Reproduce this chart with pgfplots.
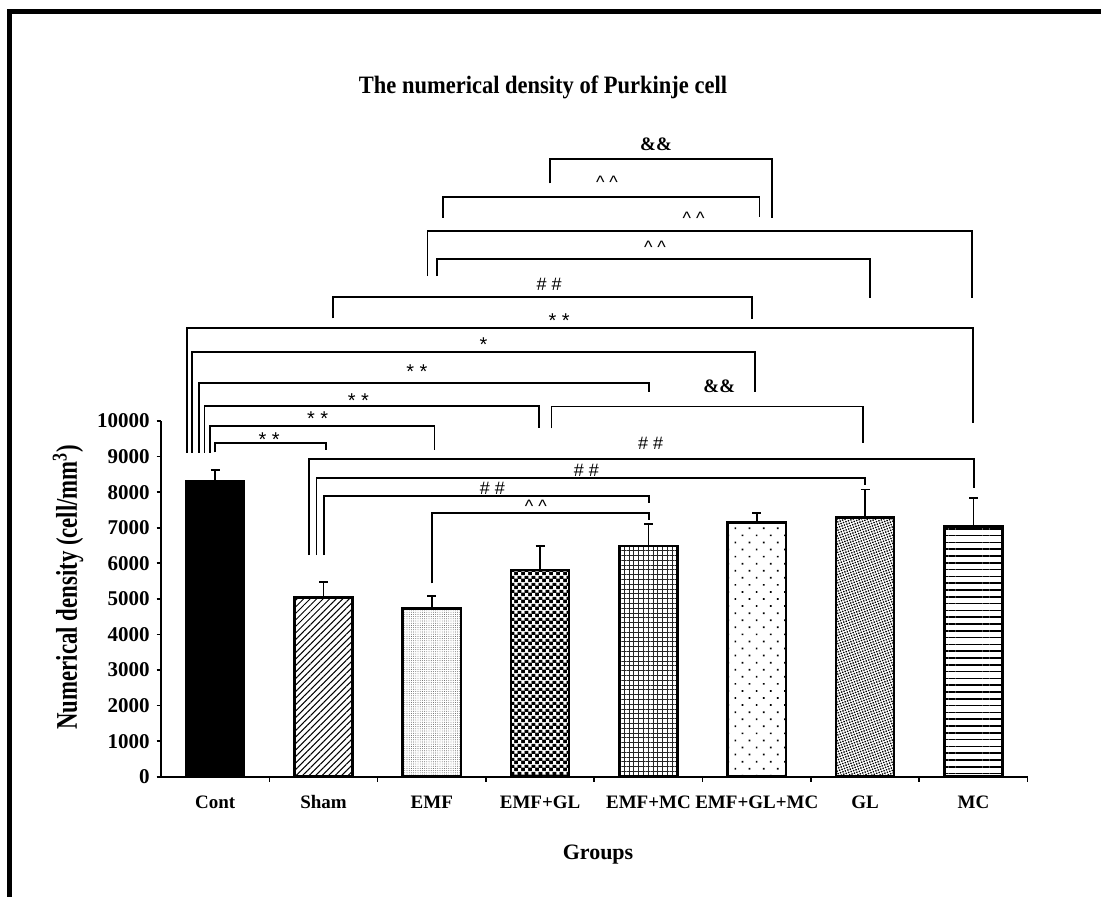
\documentclass[border=0pt]{standalone}
\usepackage{graphicx}
\usepackage{pgfplots}
\pgfplotsset{compat=1.18}
\usepackage{fontspec}
\setmainfont{Liberation Serif}
\newfontfamily\sansf{Liberation Sans}
\usetikzlibrary{patterns.meta}

\pgfdeclarepattern{
  name=wcheck,
  type=colored,
  bottom left={\pgfpointorigin},
  top right={\pgfpoint{3.5pt}{3.5pt}},
  tile size={\pgfpoint{3.5pt}{3.5pt}},
  code={
    \pgfsetfillcolor{black}
    \pgfpathrectangle{\pgfpointorigin}{\pgfpoint{3.5pt}{3.5pt}}
    \pgfusepath{fill}
    \pgfsetfillcolor{white}
    \pgfpathrectangle{\pgfpoint{0.1pt}{0.1pt}}{\pgfpoint{1.6pt}{1.6pt}}
    \pgfpathrectangle{\pgfpoint{1.85pt}{1.85pt}}{\pgfpoint{1.6pt}{1.6pt}}
    \pgfusepath{fill}
  }
}

\tikzset{
  sl/.style={font=\fontsize{9}{10}\selectfont\sansf, inner sep=0pt},
  st/.style={font=\fontsize{10}{11}\selectfont\sansf, inner sep=0pt, yshift=-2.2pt},
  bl/.style={font=\fontsize{9.5}{11}\selectfont\bfseries, inner sep=0pt},
}

\newcommand{\br}[5]{\draw[line width=0.9pt,black] (axis cs:#1,#2) |- (axis cs:#3,#5) -- (axis cs:#3,#4);}

\begin{document}
\begin{tikzpicture}
\path[use as bounding box] (0pt,0pt) rectangle (550.5pt,448pt);
\draw[line width=2.5pt] (4.75pt,-3pt) -- (4.75pt,442.15pt) -- (553pt,442.15pt);
\begin{axis}[
  at={(80.5pt,59.65pt)}, anchor=south west,
  scale only axis, width=433.3pt, height=177.85pt,
  xmin=-0.5, xmax=7.5, ymin=0, ymax=10000,
  clip=false,
  axis x line*=bottom, axis y line*=left,
  axis line style={line width=0.9pt,-},
  xtick={0,...,7},
  xticklabels={Cont,Sham,EMF,EMF+GL,EMF+MC,EMF+GL+MC,GL,MC},
  major x tick style={draw=none},
  minor xtick={0.5,1.5,...,7.5},
  minor x tick style={line width=0.8pt,black},
  minor tick length=2.5pt,
  ytick={0,1000,...,10000},
  major y tick style={line width=0.8pt,black},
  major tick length=2.2pt,
  tick align=outside,
  scaled y ticks=false,
  /pgf/number format/assume math mode=true,
  /pgf/number format/1000 sep={},
  yticklabel style={font=\fontsize{10.5}{12}\selectfont\bfseries},
  xticklabel style={font=\fontsize{9.5}{11}\selectfont\bfseries, anchor=base, yshift=-13.5pt},
  title={\scalebox{0.9}[1]{The numerical density of Purkinje cell}},
  title style={font=\fontsize{12.5}{14}\selectfont\bfseries, at={(axis description cs:0.4408,1.905)}, anchor=center},
  xlabel={Groups},
  xlabel style={font=\fontsize{11}{13}\selectfont\bfseries, at={(axis description cs:0.5043,-0.218)}, anchor=center},
  ylabel={\scalebox{0.76}[1]{Numerical density (cell/mm\textsuperscript{3})}},
  ylabel style={font=\fontsize{15}{17}\selectfont\bfseries, at={(axis description cs:-0.1073,0.533)}, anchor=center},
  bar/.style={ybar, bar width=0.536, bar shift=0pt, draw=black, line width=1.3pt,
    error bars/y dir=plus, error bars/y explicit,
    error bars/error bar style={line width=0.8pt,black,solid},
    error bars/error mark options={rotate=90, line width=0.8pt, mark size=2.2pt, black}},
]
\addplot[bar, fill=black] coordinates {(0,8300) +- (0,320)};
\addplot[bar, pattern={Lines[angle=45,distance=2.3pt,line width=0.5pt]}] coordinates {(1,5040) +- (0,440)};
\addplot[bar, pattern={Dots[distance=1.1pt,radius=0.22pt]}, pattern color=black!75] coordinates {(2,4730) +- (0,350)};
\addplot[bar, pattern=wcheck] coordinates {(3,5810) +- (0,675)};
\addplot[bar, pattern={Hatch[angle=0,distance=2.4pt,line width=0.2pt]}, pattern color=black!85] coordinates {(4,6490) +- (0,610)};
\addplot[bar, pattern={Dots[angle=45,distance=5pt,radius=0.6pt]}] coordinates {(5,7140) +- (0,280)};
\addplot[bar, pattern={Dots[angle=20,distance=1.3pt,radius=0.48pt]}] coordinates {(6,7290) +- (0,790)};
\addplot[bar, pattern={Lines[angle=0,distance=3.4pt,line width=0.8pt]}] coordinates {(7,7030) +- (0,800)};

\br{3.093}{16680}{5.140}{15697}{17355}
\br{2.103}{15714}{5.026}{15742}{16287}
\br{1.960}{14075}{6.987}{13448}{15340}
\br{2.047}{14075}{6.045}{13448}{14553}
\br{1.090}{12886}{4.956}{12866}{13493}
\br{-0.262}{9108}{6.999}{9934}{12605}
\br{-0.211}{9108}{4.983}{10822}{11930}
\br{-0.150}{9108}{4.007}{10805}{11075}
\br{-0.098}{9108}{2.992}{9794}{10420}
\br{-0.045}{9108}{2.025}{9184}{9858}
\br{0}{9118}{1.022}{9184}{9372}
\br{3.105}{9794}{5.977}{9380}{10406}
\br{0.868}{6232}{7.008}{8107}{8922}
\br{0.935}{6232}{5.999}{8200}{8405}
\br{1.006}{6232}{4.007}{7702}{7890}
\br{2.001}{5436}{4.007}{7216}{7421}

\node[bl] at (axis cs:4.07,17785) {\&\&};
\node[sl,yshift=-1.5pt] at (axis cs:3.617,16793) {\textasciicircum\ \textasciicircum};
\node[sl,yshift=-1.5pt] at (axis cs:4.417,15789) {\textasciicircum\ \textasciicircum};
\node[sl,yshift=-1.5pt] at (axis cs:4.060,14966) {\textasciicircum\ \textasciicircum};
\node[sl] at (axis cs:3.084,13850) {\#\ \#};
\node[st] at (axis cs:3.176,12959) {*\ *};
\node[st] at (axis cs:2.477,12276) {*};
\node[st] at (axis cs:1.862,11508) {*\ *};
\node[st] at (axis cs:1.323,10710) {*\ *};
\node[st] at (axis cs:0.946,10181) {*\ *};
\node[st] at (axis cs:0.499,9605) {*\ *};
\node[bl] at (axis cs:4.654,10963) {\&\&};
\node[sl] at (axis cs:4.020,9372) {\#\ \#};
\node[sl] at (axis cs:3.426,8621) {\#\ \#};
\node[sl] at (axis cs:2.560,8107) {\#\ \#};
\node[sl,yshift=-1.5pt] at (axis cs:2.961,7685) {\textasciicircum\ \textasciicircum};
\end{axis}
\end{tikzpicture}
\end{document}
